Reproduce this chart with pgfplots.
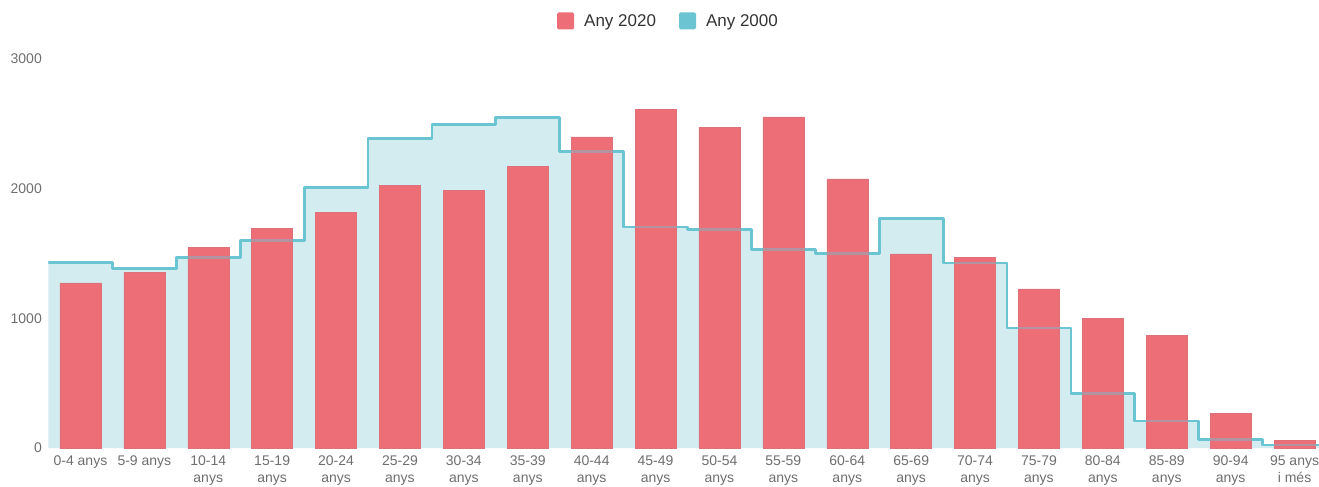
\documentclass[border=0pt]{standalone}
\usepackage{fontspec}
\setmainfont{Liberation Sans}
\usepackage{pgfplots}
\pgfplotsset{compat=1.18}
\definecolor{barred}{HTML}{EE6E78}
\definecolor{stepline}{HTML}{6AC4D2}
\definecolor{stepfill}{HTML}{D3ECF0}
\definecolor{ticktext}{HTML}{6E6E6E}

\pgfplotstableread{
x y
0 1274
1 1357
2 1548
3 1694
4 1820
5 2027
6 1989
7 2171
8 2400
9 2612
10 2474
11 2553
12 2075
13 1497
14 1468
15 1227
16 1002
17 867
18 269
19 58
}\bars

\pgfplotstableread{
x y
-0.5 1430
0.5 1385
1.5 1471
2.5 1601
3.5 2011
4.5 2384
5.5 2494
6.5 2547
7.5 2287
8.5 1705
9.5 1686
10.5 1530
11.5 1499
12.5 1770
13.5 1427
14.5 925
15.5 419
16.5 209
17.5 65
18.5 23
19.5 23
}\steps

\begin{document}
\begin{tikzpicture}
\begin{axis}[
  name=main,
  scale only axis,
  width=1278pt, height=389pt,
  xmin=-0.5, xmax=19.5,
  ymin=0, ymax=3000,
  enlargelimits=false,
  axis line style={draw=none},
  tick style={draw=none},
  xtick={0,...,19},
  xticklabels={0-4 anys,5-9 anys,10-14\\anys,15-19\\anys,20-24\\anys,25-29\\anys,
    30-34\\anys,35-39\\anys,40-44\\anys,45-49\\anys,50-54\\anys,55-59\\anys,
    60-64\\anys,65-69\\anys,70-74\\anys,75-79\\anys,80-84\\anys,85-89\\anys,
    90-94\\anys,95 anys\\i més},
  ytick={0,1000,2000,3000},
  yticklabels={0,1000,2000,3000},
  tick label style={font=\fontsize{14}{17}\selectfont, text=ticktext},
  xticklabel style={align=center, inner sep=0pt, yshift=-8pt},
  yticklabel style={inner sep=0pt, xshift=-6.5pt},
  legend style={
    at={(0.5,1)}, anchor=center, yshift=38pt, xshift=-19.5pt,
    draw=none, fill=none,
    legend columns=2,
    font=\fontsize{17}{20}\selectfont,
    text=black!80,
    /tikz/every even column/.append style={column sep=22pt},
    nodes={inner sep=1pt},
  },
  legend image code/.code={
    \fill[#1, draw=none, rounded corners=1.5pt] (0pt,-8.5pt) rectangle (17pt,8.5pt);
  },
]
% Any 2000: step area with line
\addplot[const plot mark left, draw=none, fill=stepfill, forget plot]
  table[x=x, y=y] {\steps} \closedcycle;
\addplot[const plot mark left, stepline, line width=2.8pt, line join=round, forget plot]
  table[x=x, y=y] {\steps};
% Any 2020: bars
\addplot[ybar, bar width=41pt, fill=barred, draw=barred!85!gray, line width=0.5pt, forget plot]
  table[x=x, y=y] {\bars};
% line seen through the bars
\addplot[const plot mark left, stepline, line width=2.8pt, line join=round, opacity=0.45, forget plot]
  table[x=x, y=y] {\steps};
\addlegendimage{draw=none, fill=barred}
\addlegendentry{\hspace{9pt}Any 2020}
\addlegendimage{draw=none, fill=stepline}
\addlegendentry{\hspace{9pt}Any 2000}
\end{axis}
\pgfresetboundingbox
\path[use as bounding box] (main.south west) ++(-48.5pt,-38pt) rectangle ([xshift=-7.5pt,yshift=59pt]main.north east);
\end{tikzpicture}
\end{document}
